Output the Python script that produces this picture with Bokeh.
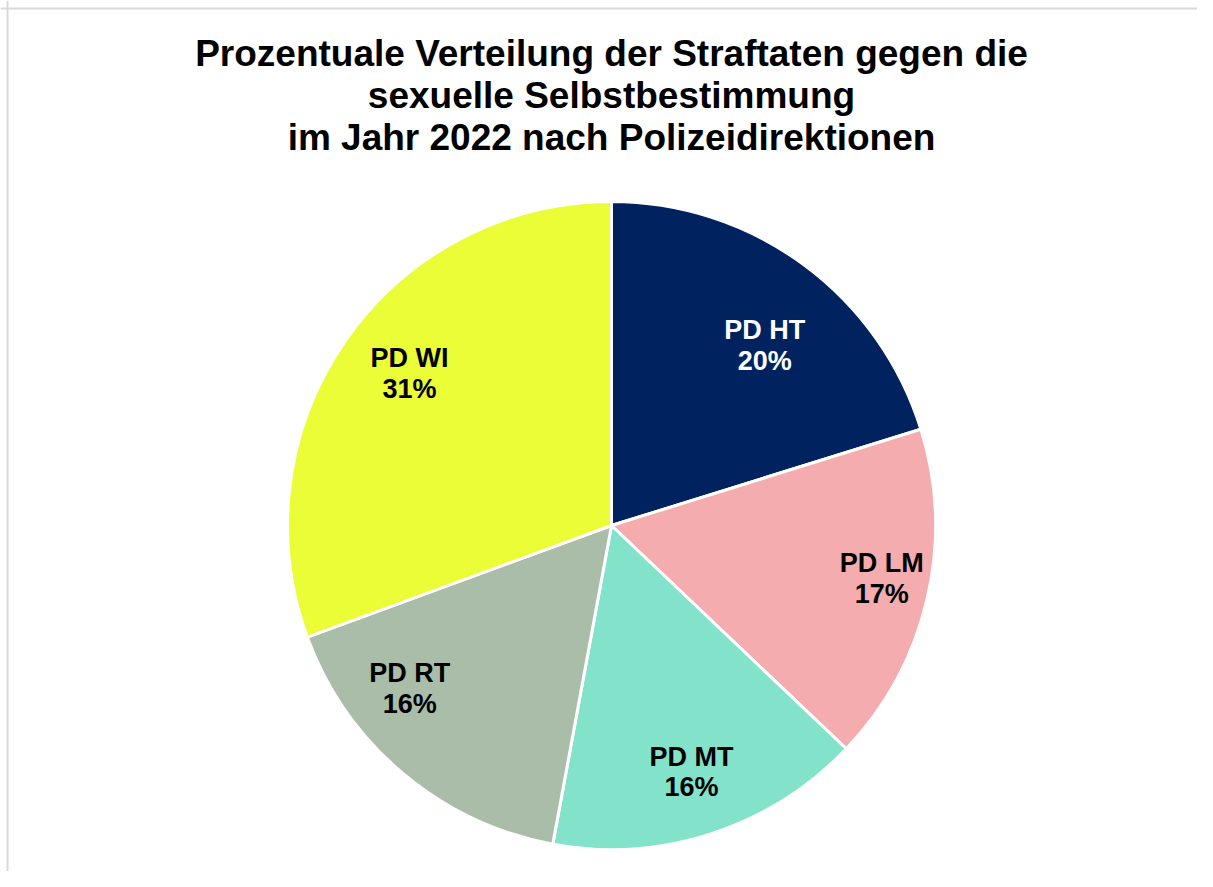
import math
from bokeh.plotting import figure
from bokeh.models import ColumnDataSource, Range1d, Span
from bokeh.core.properties import value
from bokeh.embed import file_html
from bokeh.resources import INLINE

# ---- data ----
title_lines = ["Prozentuale Verteilung der Straftaten gegen die",
               "sexuelle Selbstbestimmung",
               "im Jahr 2022 nach Polizeidirektionen"]
categories = ["PD HT", "PD LM", "PD MT", "PD RT", "PD WI"]
shares = [20.2, 16.9, 15.8, 16.5, 30.6]
colors = ["#00235F", "#F4ACAE", "#83E3CA", "#AABDA8", "#EAFD36"]
label_colors = ["#FFFFFF", "#000000", "#000000", "#000000", "#000000"]

# label placement (style): radius fraction and angular tweak (degrees)
label_radius = [0.73, 0.85, 0.80, 0.80, 0.78]
label_dtheta = [4, -2, 0, 11, 2]

W, H = 1197, 871
CX, CY, R = 611, H - 525, 324

total = sum(shares)
starts, ends, lx, ly, texts = [], [], [], [], []
cum = 0.0
for i, s in enumerate(shares):
    f0 = cum / total
    cum += s
    f1 = cum / total
    starts.append(math.pi / 2 - 2 * math.pi * f0)
    ends.append(math.pi / 2 - 2 * math.pi * f1)
    mid = (f0 + f1) / 2 * 360 + label_dtheta[i]
    th = math.radians(mid)
    lx.append(CX + label_radius[i] * R * math.sin(th))
    ly.append(CY + label_radius[i] * R * math.cos(th))
    texts.append(f"{categories[i]}\n{round(s / total * 100)}%")

src = ColumnDataSource(dict(cat=categories, start=starts, end=ends, color=colors,
                            lx=lx, ly=ly, text=texts, tcolor=label_colors))

p = figure(width=W, height=H, output_backend="svg", toolbar_location=None,
           x_range=Range1d(0, W), y_range=Range1d(0, H),
           x_axis_location=None, y_axis_location=None, min_border=0)
p.grid.visible = False
p.outline_line_color = None
p.background_fill_color = "white"
p.border_fill_color = "white"

p.wedge(x=CX, y=CY, radius=R, start_angle="start", end_angle="end",
        direction="clock", fill_color="color", line_color="white",
        line_width=3, source=src)

p.text(x="lx", y="ly", text="text", text_color="tcolor", source=src,
       text_font=value("Liberation Sans"), text_font_style="bold",
       text_font_size="27px", text_align="center", text_baseline="middle",
       text_line_height=1.03)

p.text(x=[611], y=[H - 95], text=["\n".join(title_lines)],
       text_font=value("Liberation Sans"), text_font_style="bold",
       text_font_size="37px", text_align="center", text_baseline="middle",
       text_line_height=1.03, text_color="black")

p.add_layout(Span(location=7, dimension="height", line_color="#d9d9d9", line_width=2))
p.add_layout(Span(location=H - 8, dimension="width", line_color="#d9d9d9", line_width=2))

open("out.html", "w").write(file_html(p, INLINE))
